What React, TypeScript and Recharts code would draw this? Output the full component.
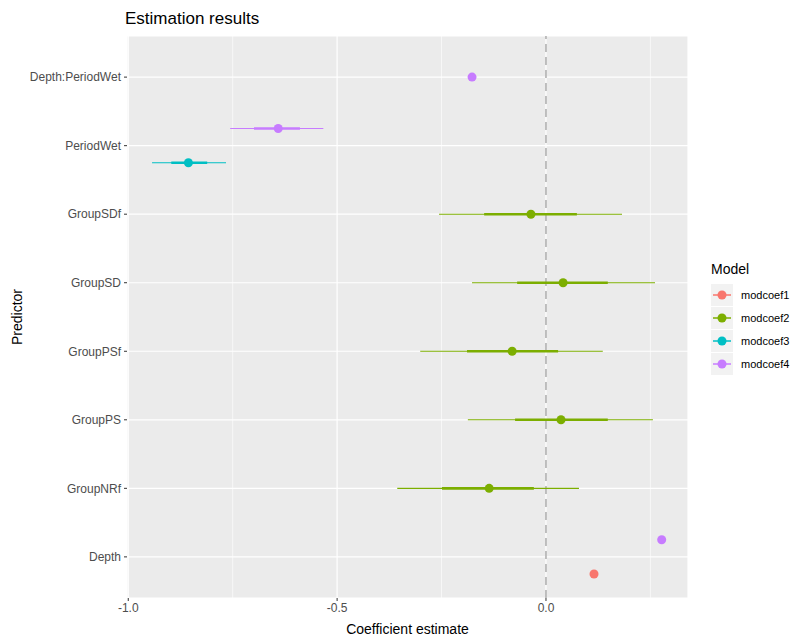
import React from "react";
import {
  ComposedChart,
  Scatter,
  ErrorBar,
  XAxis,
  YAxis,
  CartesianGrid,
  ReferenceLine,
  Label,
} from "recharts";

// terms from bottom to top of the plot
const predictors = [
  "Depth",
  "GroupNRf",
  "GroupPS",
  "GroupPSf",
  "GroupSD",
  "GroupSDf",
  "PeriodWet",
  "Depth:PeriodWet",
];

const modelNames = ["modcoef1", "modcoef2", "modcoef3", "modcoef4"];
const modelColors = ["#F8766D", "#7CAE00", "#00BFC4", "#C77CFF"];

// per model: terms, estimate, inner interval, outer interval
const coef1Terms = ["Depth"];
const coef1Est = [0.115];
const coef1Inner = [[0.112, 0.118]];
const coef1Outer = [[0.109, 0.121]];

const coef2Terms = ["GroupNRf", "GroupPS", "GroupPSf", "GroupSD", "GroupSDf"];
const coef2Est = [-0.136, 0.036, -0.081, 0.041, -0.036];
const coef2Inner = [[-0.249, -0.029], [-0.074, 0.148], [-0.189, 0.029], [-0.069, 0.148], [-0.148, 0.074]];
const coef2Outer = [[-0.356, 0.079], [-0.187, 0.256], [-0.301, 0.136], [-0.177, 0.261], [-0.256, 0.182]];

const coef3Terms = ["PeriodWet"];
const coef3Est = [-0.856];
const coef3Inner = [[-0.897, -0.811]];
const coef3Outer = [[-0.943, -0.766]];

const coef4Terms = ["Depth", "PeriodWet", "Depth:PeriodWet"];
const coef4Est = [0.277, -0.641, -0.177];
const coef4Inner = [[0.274, 0.28], [-0.699, -0.589], [-0.18, -0.174]];
const coef4Outer = [[0.271, 0.283], [-0.756, -0.533], [-0.183, -0.171]];

const xTicks = [-1, -0.5, 0];
const xMinor = [-0.75, -0.25, 0.25];

const models = [
  { terms: coef1Terms, est: coef1Est, inner: coef1Inner, outer: coef1Outer },
  { terms: coef2Terms, est: coef2Est, inner: coef2Inner, outer: coef2Outer },
  { terms: coef3Terms, est: coef3Est, inner: coef3Inner, outer: coef3Outer },
  { terms: coef4Terms, est: coef4Est, inner: coef4Inner, outer: coef4Outer },
];

// dodge: models sharing a term are spread over width 1
const modelsPerTerm = (term: string) =>
  models.map((m, i) => (m.terms.includes(term) ? i : -1)).filter((i) => i >= 0);

const rows = models.map((m, mi) =>
  m.terms.map((term, k) => {
    const present = modelsPerTerm(term);
    const rank = present.indexOf(mi);
    const n = present.length;
    const offset = (rank + 0.5) / n - 0.5;
    return {
      term,
      est: m.est[k],
      y: predictors.indexOf(term) + (n > 1 ? offset : 0),
      innerErr: [m.est[k] - m.inner[k][0], m.inner[k][1] - m.est[k]],
      outerErr: [m.est[k] - m.outer[k][0], m.outer[k][1] - m.est[k]],
    };
  })
);

const FONT = "'Liberation Sans', Arial, sans-serif";

function LegendBox() {
  return (
    <div style={{ position: "absolute", left: 711, top: 261, fontFamily: FONT }}>
      <div style={{ fontSize: 14, color: "#000", marginBottom: 6 }}>Model</div>
      {modelNames.map((name, i) => (
        <div key={name} style={{ display: "flex", alignItems: "center", height: 23 }}>
          <svg width={22} height={22} style={{ display: "block" }}>
            <rect x={0} y={0} width={22} height={22} fill="#F2F2F2" />
            <line x1={2} y1={11} x2={20} y2={11} stroke={modelColors[i]} strokeWidth={1.5} />
            <circle cx={11} cy={11} r={4.5} fill={modelColors[i]} />
          </svg>
          <span style={{ fontSize: 11, color: "#000", marginLeft: 8, whiteSpace: "nowrap" }}>{name}</span>
        </div>
      ))}
    </div>
  );
}

export default function App() {
  return (
    <div
      style={{
        position: "absolute",
        left: 0,
        top: 0,
        width: 790,
        height: 637,
        overflow: "hidden",
        background: "#fff",
        fontFamily: FONT,
      }}
    >
      <div style={{ position: "absolute", left: 125, top: 9, fontSize: 17, color: "#000" }}>
        Estimation results
      </div>
      <ComposedChart
        width={790}
        height={637}
        margin={{ top: 36, right: 102, bottom: 0, left: 0 }}
      >
        <CartesianGrid fill="#EBEBEB" stroke="#FFFFFF" strokeWidth={1.2} />
        {xMinor.map((v) => (
          <ReferenceLine key={v} x={v} stroke="#FFFFFF" strokeWidth={0.6} />
        ))}
        <XAxis
          type="number"
          dataKey="est"
          domain={[-1.003, 0.34]}
          ticks={xTicks}
          allowDataOverflow
          tickFormatter={(v: number) => v.toFixed(1)}
          axisLine={false}
          tickLine={{ stroke: "#333333" }}
          tickSize={3}
          tickMargin={2}
          height={39}
          tick={{ fontSize: 12, fill: "#4D4D4D", fontFamily: FONT }}
        >
          <Label
            value="Coefficient estimate"
            position="insideBottom"
            offset={3}
            style={{ fontSize: 14, fill: "#000", fontFamily: FONT }}
          />
        </XAxis>
        <YAxis
          type="number"
          dataKey="y"
          domain={[-0.6, 7.6]}
          ticks={predictors.map((_, i) => i)}
          allowDataOverflow
          tickFormatter={(v: number) => predictors[v] ?? ""}
          axisLine={false}
          tickLine={{ stroke: "#333333" }}
          tickSize={3}
          tickMargin={3}
          width={127}
          tick={{ fontSize: 12, fill: "#4D4D4D", fontFamily: FONT }}
        >
          <Label
            value="Predictor"
            angle={-90}
            position="insideLeft"
            offset={17}
            style={{ fontSize: 14, fill: "#000", fontFamily: FONT, textAnchor: "middle" }}
          />
        </YAxis>
        <ReferenceLine x={0} stroke="#ABABAB" strokeWidth={1.5} strokeDasharray="8 5" />
        {rows.map((data, i) => (
          <Scatter
            key={modelNames[i]}
            name={modelNames[i]}
            data={data}
            fill={modelColors[i]}
            isAnimationActive={false}
            shape={(p: any) => <circle cx={p.cx} cy={p.cy} r={4.5} fill={modelColors[i]} />}
          >
            <ErrorBar dataKey="outerErr" direction="x" width={0} stroke={modelColors[i]} strokeWidth={1.1} />
            <ErrorBar dataKey="innerErr" direction="x" width={0} stroke={modelColors[i]} strokeWidth={2.6} />
          </Scatter>
        ))}
      </ComposedChart>
      <LegendBox />
    </div>
  );
}
